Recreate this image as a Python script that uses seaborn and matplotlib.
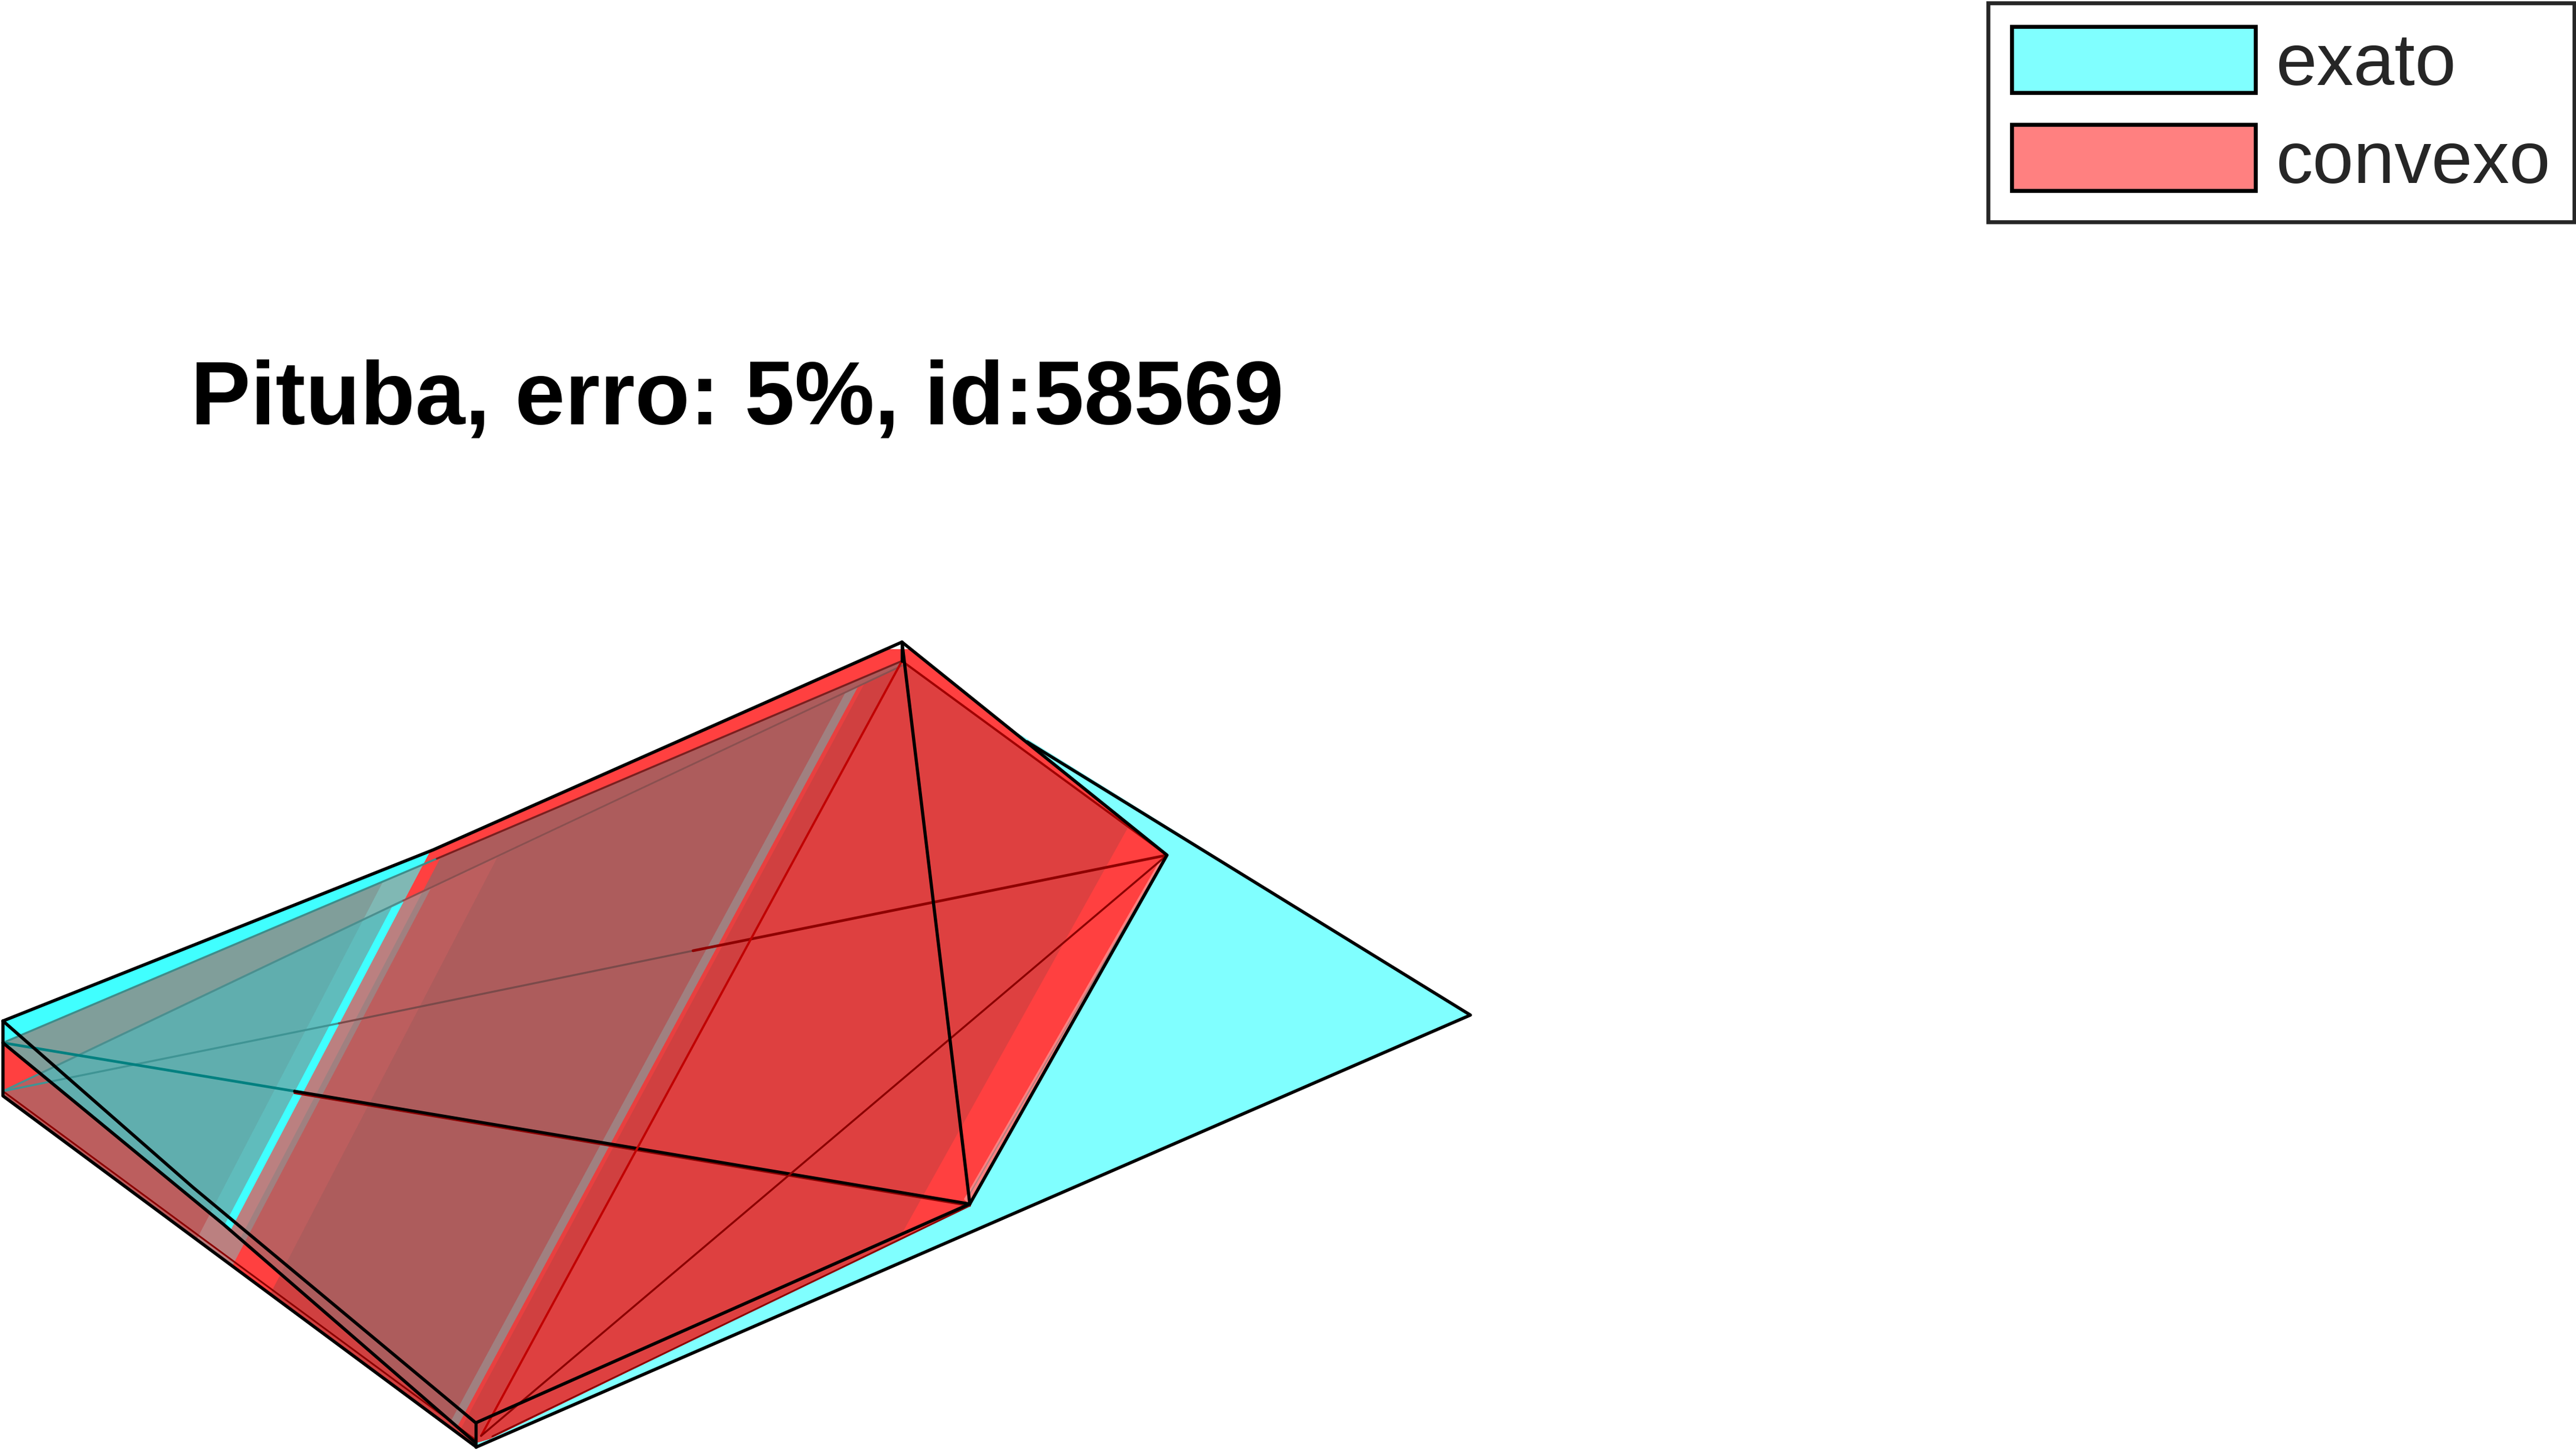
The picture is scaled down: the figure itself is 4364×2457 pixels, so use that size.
import matplotlib
matplotlib.use("Agg")
import matplotlib.pyplot as plt
from matplotlib.patches import Patch, Polygon
import seaborn as sns

sns.set_theme(style="white")
plt.rcParams['font.family'] = ['Liberation Sans', 'DejaVu Sans']

W, H = 4364, 2457

title = "Pituba, erro: 5%, id:58569"
legend_labels = ["exato", "convexo"]
legend_colors = ["#80ffff", "#ff8080"]

# outlines, in picture pixels
exact_outline = [(1528, 1120), (2491, 1720), (807, 2452), (806, 2411)]
top_face = [(5, 1767), (1528, 1120), (1977, 1449), (1643, 2042), (830, 2438), (806, 2445), (379, 2075)]
upper_strip = [(5, 1767), (1528, 1120), (1528, 1128), (5, 1849)]
top_rim = [(5, 1730), (734, 1440), (1528, 1088), (1977, 1449), (1528, 1120), (5, 1767)]
slab = [(5, 1849), (68, 1819), (379, 2075), (806, 2445), (807, 2452), (5, 1857)]
left_red = [(5, 1767), (5, 1849), (68, 1819)]
right_pink = [(1977, 1449), (1643, 2042), (1633, 2032), (1965, 1458)]

# slanted colour bands: x where each band starts, at y=1100 and at y=2500
band_x_top = [-1000, 854, 894, 909, 932, 943, 1026, 1472, 1488, 1496, 1539, 2079]
band_x_bot = [-1000, 125, 157, 172, 196, 207, 298, 714, 730, 738, 775, 1300]
band_colors = ["#60aeae", "#60bcbc", "#40ffff", "#bb8080", "#a08080", "#bc5e5e",
               "#ad5c5c", "#a08080", "#e84040", "#d04040", "#de4040", "#ff4040"]
upper_colors = ["#809e9a", "#80b8b4", "#80b8b4", "#ff4040", "#ad5c5c", "#ad5c5c",
                "#ad5c5c", "#ad5c5c", "#ad5c5c", "#ad5c5c", "#ad5c5c", "#ad5c5c"]
slab_colors = ["#bc5e5e", "#bb8080", "#bb8080", "#bb8080", "#bb8080", "#ff4040",
               "#d04040", "#d04040", "#d04040", "#d04040", "#d04040", "#d04040"]
rim_colors = ["#40ffff", "#40ffff", "#40ffff", "#ff4040", "#ff4040", "#ff4040",
              "#ff4040", "#ff4040", "#ff4040", "#ff4040", "#ff4040", "#ff4040"]

# edges: points, colour, width
black_edges = [
    [(5, 1730), (734, 1440), (1528, 1088), (1977, 1449), (1643, 2040), (806, 2411), (327, 2012), (5, 1730)],
    [(5, 1730), (5, 1857), (807, 2452), (2491, 1720), (1740, 1257)],
    [(806, 2411), (806, 2452)],
    [(1528, 1088), (1643, 2040)],
    [(1528, 1088), (1528, 1120)],
    [(5, 1767), (379, 2075), (806, 2445)],
]
inner_edges = [
    ([(5, 1767), (740, 1455)], "#3f8c8a", 0.8),
    ([(740, 1455), (1528, 1120)], "#7a1f1f", 0.8),
    ([(5, 1849), (683, 1526)], "#4b8f8f", 0.8),
    ([(683, 1526), (1528, 1128)], "#8a5050", 0.7),
    ([(5, 1849), (574, 1734)], "#3f9494", 0.8),
    ([(574, 1734), (1174, 1611)], "#7a4a4a", 0.8),
    ([(1174, 1611), (1977, 1449)], "#8f0000", 1.1),
    ([(5, 1767), (499, 1849)], "#008080", 1.1),
    ([(499, 1852), (1643, 2043)], "#8b0000", 0.9),
    ([(499, 1849), (1643, 2040)], "black", 1.2),
    ([(1528, 1120), (815, 2433)], "#c00000", 0.9),
    ([(1977, 1449), (815, 2433)], "#8b0000", 0.8),
    ([(1528, 1120), (1977, 1449)], "#a00000", 0.9),
    ([(1643, 2043), (834, 2434)], "#8b0000", 0.7),
    ([(5, 1849), (806, 2440)], "#8b0000", 0.7),
    ([(1968, 1462), (1640, 2028)], "#b08080", 0.5),
]

fig = plt.figure(figsize=(W / 300, H / 300), dpi=300)
ax = fig.add_axes([0, 0, 1, 1])
ax.set_xlim(0, W)
ax.set_ylim(H, 0)
ax.axis("off")


def paint_bands(outline, colors):
    clip = Polygon(outline, closed=True, transform=ax.transData)
    for xt, xb, c in zip(band_x_top, band_x_bot, colors):
        patch = ax.fill([xt, 3000, 3000, xb], [1100, 1100, 2500, 2500], color=c, lw=0)[0]
        patch.set_clip_path(clip)


def draw_edge(points, color, width):
    xs = [p[0] for p in points]
    ys = [p[1] for p in points]
    sns.lineplot(x=xs, y=ys, sort=False, estimator=None, color=color, linewidth=width, ax=ax, legend=False)


ax.fill(*zip(*exact_outline), color="#80ffff", lw=0)
paint_bands(top_rim, rim_colors)
paint_bands(top_face, band_colors)
paint_bands(upper_strip, upper_colors)
paint_bands(slab, slab_colors)
ax.fill(*zip(*left_red), color="#ff4040", lw=0)
ax.fill(*zip(*right_pink), color="#ff8080", lw=0)

for pts, col, lw in inner_edges:
    draw_edge(pts, col, lw)
for pts in black_edges:
    draw_edge(pts, "black", 1.3)

ax.set_xlim(0, W)
ax.set_ylim(H, 0)

ax.text(323, 718, title, fontsize=36.5, fontweight="bold", color="black", va="baseline", ha="left")

handles = [Patch(facecolor=c, edgecolor="black", linewidth=1.6, label=l) for c, l in zip(legend_colors, legend_labels)]
leg = ax.legend(handles=handles, loc="upper right", bbox_to_anchor=(4361, 5), bbox_transform=ax.transData,
                fontsize=30, frameon=True, fancybox=False, borderaxespad=0, borderpad=0.32,
                handlelength=3.3, handleheight=1.0, handletextpad=0.28, labelspacing=0.33)
leg.get_frame().set_edgecolor("#262626")
leg.get_frame().set_linewidth(1.6)
leg.get_frame().set_alpha(1)

fig.savefig("out.png", dpi=300, facecolor="white")
